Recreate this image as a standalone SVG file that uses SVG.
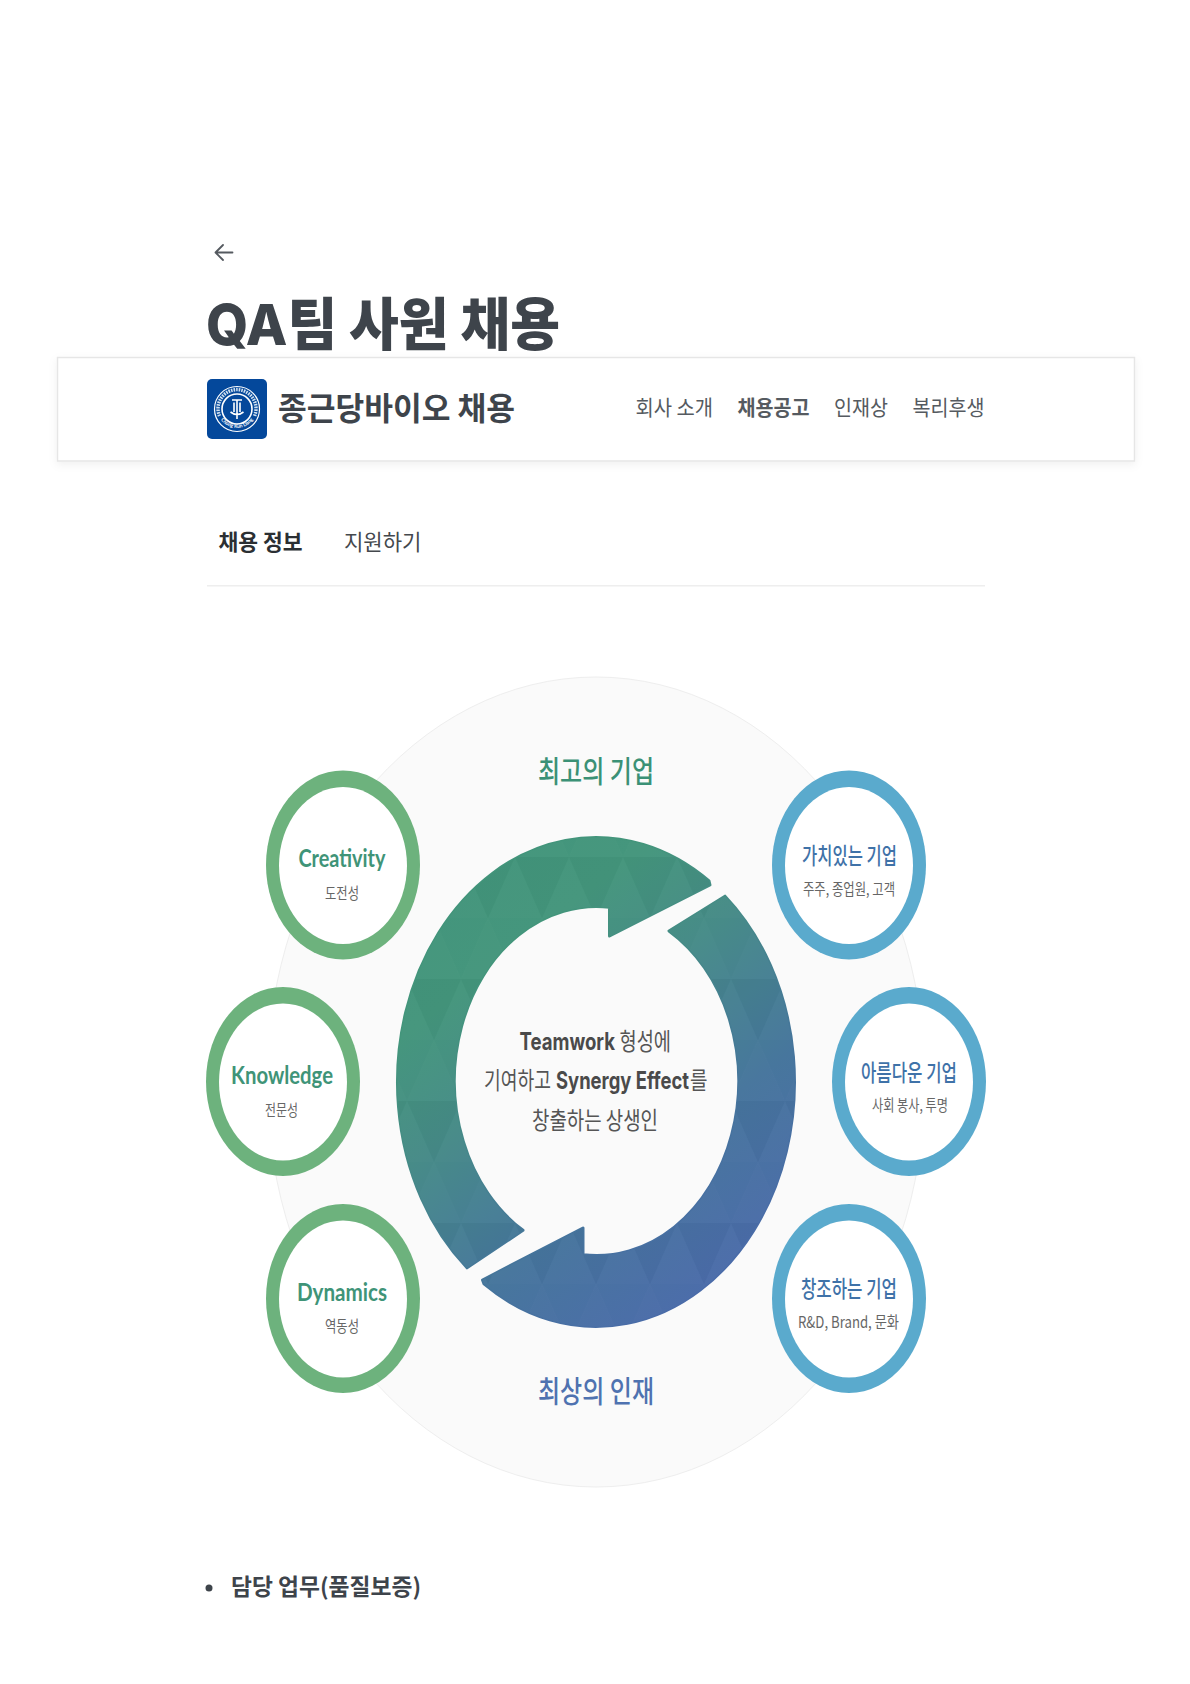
<svg xmlns="http://www.w3.org/2000/svg" width="1190" height="1684" viewBox="0 0 1190 1684">
<style>
text{font-family:"Noto Sans CJK KR","Noto Sans",sans-serif}
.ttl{font-family:Inter,"Noto Sans CJK KR",sans-serif;font-size:57px;font-weight:800;fill:#3e444b}
.nav{font-size:21px;font-weight:400;fill:#555a60}
.hd{font-size:32px;font-weight:700;fill:#3e444b}
.b{font-weight:700}
.en{font-family:Lato,"Noto Sans CJK KR",sans-serif}
.g{fill:#6db27d}.bl{fill:#5aaacd}.in{fill:#fff}
.gl{font-size:25px;font-weight:700;fill:#3f9478}
.bll{font-size:23px;font-weight:500;fill:#3f72a8}
.sub{font-size:16px;font-weight:400;fill:#666}
.ctr{font-size:24px;font-weight:400;fill:#555}
.lat{font-family:Inter,"Noto Sans CJK KR",sans-serif;font-weight:700;fill:#4a4a4a}
.lab{font-size:30px;font-weight:500}
.tab{font-size:22px}
</style>
<defs>
<linearGradient id="ag" gradientUnits="userSpaceOnUse" x1="420" y1="900" x2="720" y2="1280">
<stop offset="0" stop-color="#41947a"/><stop offset=".2" stop-color="#43957b"/><stop offset=".42" stop-color="#458a87"/><stop offset=".72" stop-color="#45749c"/><stop offset="1" stop-color="#4a6ba9"/>
</linearGradient>
<pattern id="tri" patternUnits="userSpaceOnUse" x="2" y="857" width="54" height="122">
<path d="M27 0L54 61H0Z" fill="#fff" fill-opacity=".02"/>
<path d="M0 61L27 122L54 61Z" fill="#fff" fill-opacity=".012"/>
<path d="M0 0L27 0L0 61ZM54 0L27 0L54 61Z" fill="#000" fill-opacity=".018"/>
<path d="M0 61L0 122H27ZM54 61L54 122H27Z" fill="#fff" fill-opacity=".025"/>
</pattern>
<filter id="sh" x="-5%" y="-20%" width="110%" height="150%"><feDropShadow dx="0" dy="3" stdDeviation="4" flood-color="#000" flood-opacity=".06"/></filter>
<path id="ringT" d="M218.500 415.500A20 20 0 0 0 255.500 415.500"/>
</defs>
<rect width="1190" height="1684" fill="#fff"/>

<g id="back-arrow" fill="none" stroke="#555a60" stroke-width="1.800" stroke-linecap="round" stroke-linejoin="round"><path d="M232.500 252.500H215.500M223 245L215.500 252.500L223 260"/></g>
<g id="title"><text class="ttl" x="206" y="345" textLength="354" lengthAdjust="spacingAndGlyphs">QA팀 사원 채용</text></g>

<g id="header">
<rect x="57.500" y="357.500" width="1077" height="103.500" fill="#fff" stroke="#e6e6e6" stroke-width="1.500" filter="url(#sh)"/>
<rect x="207" y="379" width="60" height="60" rx="5" fill="#04489b"/>
<circle cx="237" cy="409" r="22.500" fill="none" stroke="#fff" stroke-width="1.200"/>
<circle cx="237" cy="409" r="15" fill="none" stroke="#fff" stroke-width="1.600"/>
<path d="M219.500 416A19 19 0 1 1 254.500 416" fill="none" stroke="#cfe0f0" stroke-width="3.500" stroke-dasharray="1.600 1"/>
<text font-size="5" font-weight="700" fill="#fff" text-anchor="middle" class="en"><textPath href="#ringT" startOffset="50%">Chong Kun Dang</textPath></text>
<path d="M232 400H242M237 400V419M234 402.500V412M240 402.500V412M230.500 412Q237 417 243.500 412" fill="none" stroke="#fff" stroke-width="1.600"/>
<text x="278" y="419.500" class="hd" textLength="237" lengthAdjust="spacingAndGlyphs">종근당바이오 채용</text>
<text class="nav" x="635.500" y="415" textLength="77.500" lengthAdjust="spacingAndGlyphs">회사 소개</text>
<text class="nav b" x="737.500" y="415" textLength="72" lengthAdjust="spacingAndGlyphs">채용공고</text>
<text class="nav" x="834" y="415" textLength="54" lengthAdjust="spacingAndGlyphs">인재상</text>
<text class="nav" x="912.500" y="415" textLength="72" lengthAdjust="spacingAndGlyphs">복리후생</text>
</g>

<g id="tabs">
<text class="tab b" x="218.500" y="549.500" textLength="84" lengthAdjust="spacingAndGlyphs" fill="#2b2f33">채용 정보</text>
<text class="tab" x="344" y="549.500" textLength="77.500" lengthAdjust="spacingAndGlyphs" fill="#44484d">지원하기</text>
<rect x="207" y="585" width="778" height="1.500" fill="#eee"/>
</g>

<ellipse id="backdrop" cx="596" cy="1082" rx="329" ry="405" fill="#fafafa" stroke="#eee"/>

<g id="connectors">
<path id="arrow-top" d="M467 1267.830A198.500 244.500 0 0 1 709 880.980L710 885L609.500 936V907.200A142 174.500 0 0 0 523 1230.300Z" fill="url(#ag)" stroke="url(#ag)" stroke-width="3" stroke-linejoin="round"/>
<path id="arrow-bottom" d="M725 896.170A198.500 244.500 0 0 1 484 1283.860L482.500 1280L583 1228V1254.800A142 174.500 0 0 0 669 931Z" fill="url(#ag)" stroke="url(#ag)" stroke-width="3" stroke-linejoin="round"/>
<path d="M467 1267.830A198.500 244.500 0 0 1 709 880.980L710 885L609.500 936V907.200A142 174.500 0 0 0 523 1230.300Z" fill="url(#tri)"/>
<path d="M725 896.170A198.500 244.500 0 0 1 484 1283.860L482.500 1280L583 1228V1254.800A142 174.500 0 0 0 669 931Z" fill="url(#tri)"/>
</g>

<g id="label-top"><text class="lab" x="538" y="782" fill="#3b9176" textLength="116" lengthAdjust="spacingAndGlyphs">최고의 기업</text></g>
<g id="label-bottom"><text class="lab" x="538" y="1402" fill="#4f72b0" textLength="116" lengthAdjust="spacingAndGlyphs">최상의 인재</text></g>

<g id="center-text">
<text class="ctr lat" x="519.500" y="1050" textLength="95.500" lengthAdjust="spacingAndGlyphs">Teamwork</text>
<text class="ctr" x="619.500" y="1050" textLength="51.500" lengthAdjust="spacingAndGlyphs">형성에</text>
<text class="ctr" x="484" y="1089" textLength="67" lengthAdjust="spacingAndGlyphs">기여하고</text>
<text class="ctr lat" x="556" y="1089" textLength="133" lengthAdjust="spacingAndGlyphs">Synergy Effect</text>
<text class="ctr" x="690" y="1089" textLength="17.500" lengthAdjust="spacingAndGlyphs">를</text>
<text class="ctr" x="532" y="1129" textLength="126" lengthAdjust="spacingAndGlyphs">창출하는 상생인</text>
</g>

<g id="node-creativity">
<ellipse class="g" cx="343" cy="865" rx="77" ry="94.500"/><ellipse class="in" cx="343" cy="865.500" rx="64" ry="78.500"/>
<text class="gl en" x="298.500" y="867" textLength="87" lengthAdjust="spacingAndGlyphs">Creativity</text>
<text class="sub" x="325" y="899" textLength="34" lengthAdjust="spacingAndGlyphs">도전성</text>
</g>
<g id="node-knowledge">
<ellipse class="g" cx="283" cy="1081.500" rx="77" ry="94.500"/><ellipse class="in" cx="283" cy="1082" rx="64" ry="78.500"/>
<text class="gl en" x="231" y="1084" textLength="102" lengthAdjust="spacingAndGlyphs">Knowledge</text>
<text class="sub" x="265" y="1115.500" textLength="33" lengthAdjust="spacingAndGlyphs">전문성</text>
</g>
<g id="node-dynamics">
<ellipse class="g" cx="343" cy="1298.500" rx="77" ry="94.500"/><ellipse class="in" cx="343" cy="1299" rx="64" ry="78.500"/>
<text class="gl en" x="297" y="1301" textLength="90" lengthAdjust="spacingAndGlyphs">Dynamics</text>
<text class="sub" x="325" y="1331.500" textLength="34" lengthAdjust="spacingAndGlyphs">역동성</text>
</g>
<g id="node-value">
<ellipse class="bl" cx="849" cy="865" rx="77" ry="94.500"/><ellipse class="in" cx="849" cy="865.500" rx="64" ry="78.500"/>
<text class="bll" x="802" y="864" textLength="95" lengthAdjust="spacingAndGlyphs">가치있는 기업</text>
<text class="sub" x="803" y="895" textLength="92" lengthAdjust="spacingAndGlyphs">주주, 종업원, 고객</text>
</g>
<g id="node-beauty">
<ellipse class="bl" cx="909" cy="1081.500" rx="77" ry="94.500"/><ellipse class="in" cx="909" cy="1082" rx="64" ry="78.500"/>
<text class="bll" x="861" y="1081" textLength="96" lengthAdjust="spacingAndGlyphs">아름다운 기업</text>
<text class="sub" x="872" y="1111" textLength="76" lengthAdjust="spacingAndGlyphs">사회 봉사, 투명</text>
</g>
<g id="node-create">
<ellipse class="bl" cx="849" cy="1298.500" rx="77" ry="94.500"/><ellipse class="in" cx="849" cy="1299" rx="64" ry="78.500"/>
<text class="bll" x="801" y="1297" textLength="96" lengthAdjust="spacingAndGlyphs">창조하는 기업</text>
<text class="sub" x="798" y="1328" textLength="101" lengthAdjust="spacingAndGlyphs">R&amp;D, Brand, 문화</text>
</g>

<g id="bullet">
<circle cx="209" cy="1588" r="3.500" fill="#3e444b"/>
<text x="231" y="1595" font-size="23" font-weight="700" fill="#3e444b" textLength="190" lengthAdjust="spacingAndGlyphs">담당 업무(품질보증)</text>
</g>
</svg>
